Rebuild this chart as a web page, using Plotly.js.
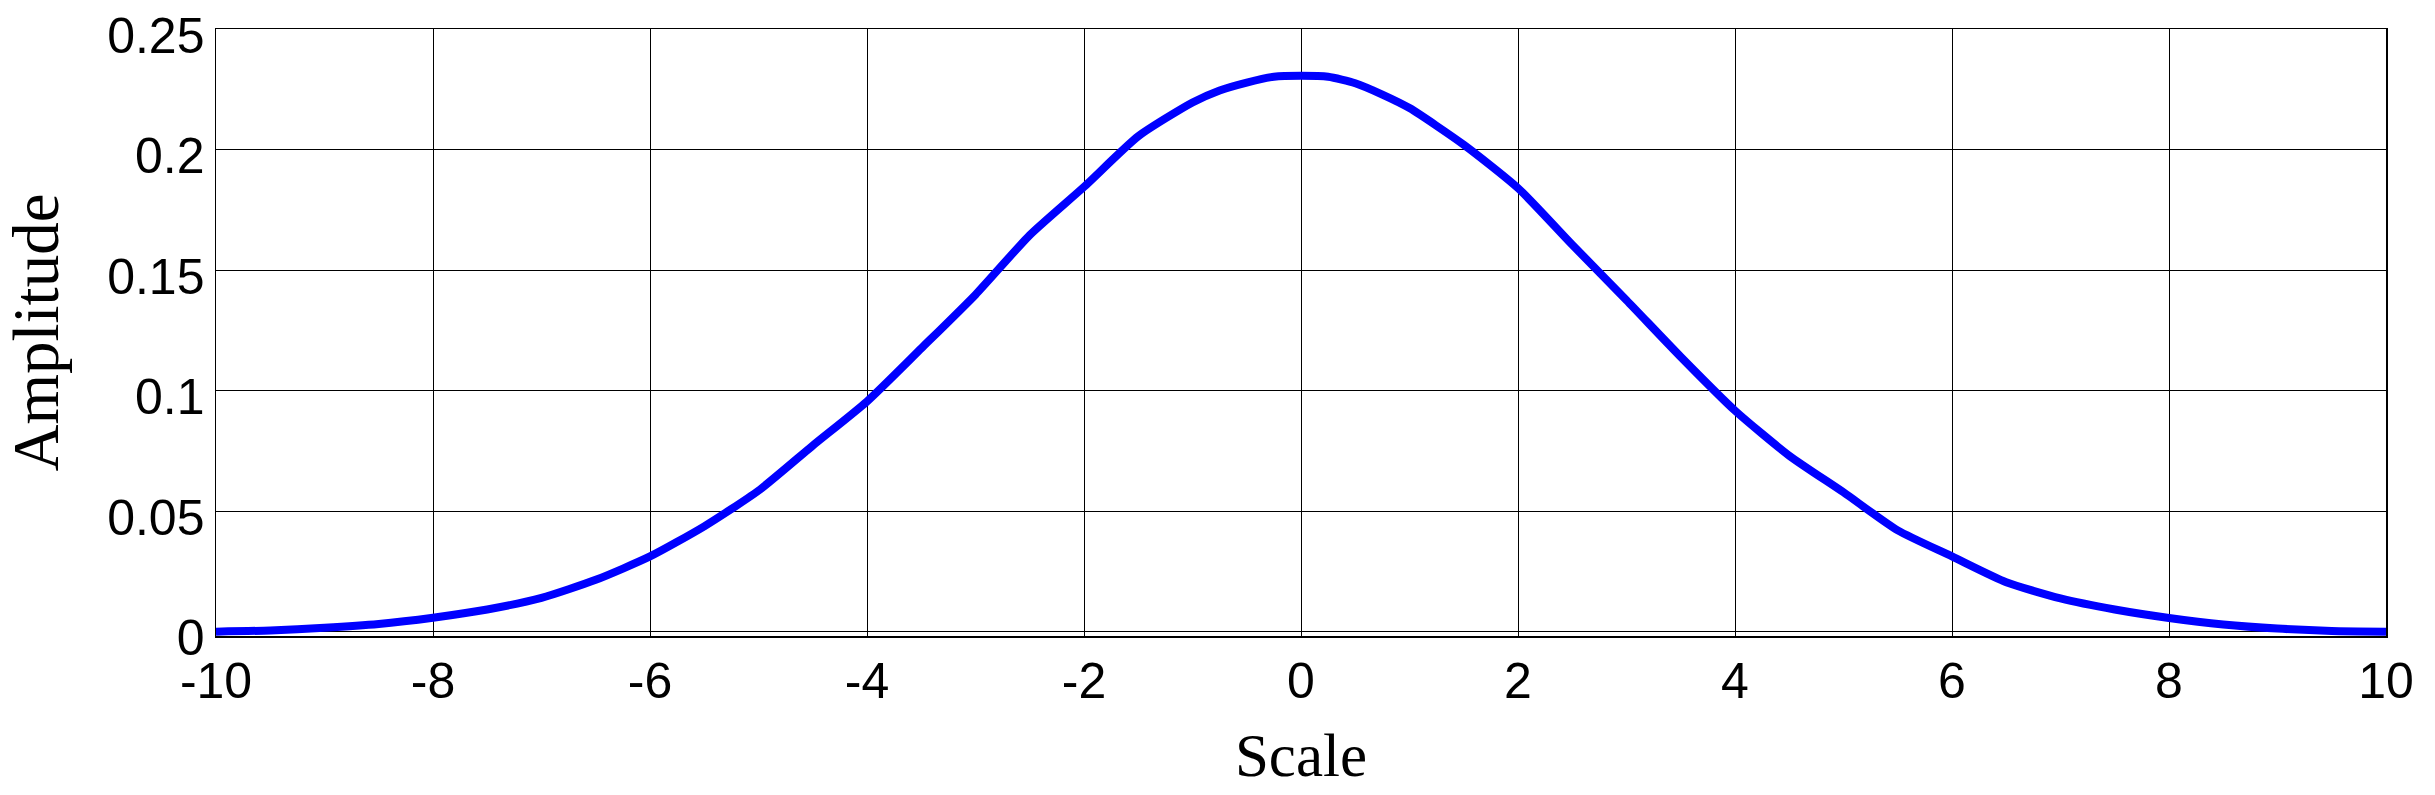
<!DOCTYPE html>
<html>
<head>
<meta charset="utf-8">
<script src="https://cdn.plot.ly/plotly-3.0.1.min.js"></script>
<style>html,body{margin:0;padding:0;background:#fff;}#chart{width:2435px;height:795px;}</style>
</head>
<body>
<div id="chart"></div>
<script>
// Data
var scale = [-10, -9.5, -9, -8.5, -8, -7.5, -7, -6.5, -6, -5.5, -5, -4.5, -4, -3.5, -3, -2.5, -2, -1.5, -1, -0.75, -0.5, -0.25, 0, 0.25, 0.5, 0.75, 1, 1.5, 2, 2.5, 3, 3.5, 4, 4.5, 5, 5.5, 6, 6.5, 7, 7.5, 8, 8.5, 9, 9.5, 10];
var amplitude = [0.0000, 0.0005, 0.0016, 0.0032, 0.0058, 0.0092, 0.0140, 0.0215, 0.0312, 0.0437, 0.0585, 0.0772, 0.0955, 0.1175, 0.1398, 0.1645, 0.1845, 0.2055, 0.2195, 0.2245, 0.2278, 0.2302, 0.2306, 0.2302, 0.2275, 0.2228, 0.2172, 0.2020, 0.1840, 0.1605, 0.1375, 0.1140, 0.0917, 0.0730, 0.0578, 0.0420, 0.0312, 0.0205, 0.0138, 0.0092, 0.0057, 0.0030, 0.0013, 0.0003, 0.0000];
var xTickVals = [-10, -8, -6, -4, -2, 0, 2, 4, 6, 8, 10];
var xTickText = ["-10", "-8", "-6", "-4", "-2", "0", "2", "4", "6", "8", "10"];
var yTickVals = [0, 0.05, 0.1, 0.15, 0.2, 0.25];
var yTickText = ["0", "0.05", "0.1", "0.15", "0.2", "0.25"];

var trace = {
  x: scale,
  y: amplitude,
  type: 'scatter',
  mode: 'lines',
  line: {color: '#0000ff', width: 8, shape: 'spline', smoothing: 0.6},
  hoverinfo: 'skip'
};

var tickFont = {family: '"Liberation Sans", Arial, sans-serif', size: 50, color: '#000'};

var layout = {
  width: 2435,
  height: 795,
  margin: {l: 216, r: 49, t: 29, b: 159, pad: 0},
  paper_bgcolor: '#ffffff',
  plot_bgcolor: '#ffffff',
  showlegend: false,
  xaxis: {
    range: [-10, 10],
    tickmode: 'array',
    tickvals: xTickVals,
    ticktext: xTickText,
    tickfont: tickFont,
    ticks: '',
    showgrid: true,
    gridcolor: '#000000',
    gridwidth: 1,
    zeroline: false,
    showline: true,
    linecolor: '#000000',
    linewidth: 1.5,
    mirror: true,
    title: {text: 'Scale', font: {family: '"Liberation Serif", "Times New Roman", serif', size: 61, color: '#000'}, standoff: 26}
  },
  yaxis: {
    range: [-0.0018, 0.25],
    tickmode: 'array',
    tickvals: yTickVals,
    ticktext: yTickText,
    tickfont: tickFont,
    ticklabelshift: 6,
    ticks: '',
    showgrid: true,
    gridcolor: '#000000',
    gridwidth: 1,
    zeroline: false,
    showline: true,
    linecolor: '#000000',
    linewidth: 1.5,
    mirror: true,
    title: {text: 'Amplitude', font: {family: '"Liberation Serif", "Times New Roman", serif', size: 65, color: '#000'}, standoff: 34}
  }
};

Plotly.newPlot('chart', [trace], layout, {staticPlot: true, displayModeBar: false});
</script>
</body>
</html>
